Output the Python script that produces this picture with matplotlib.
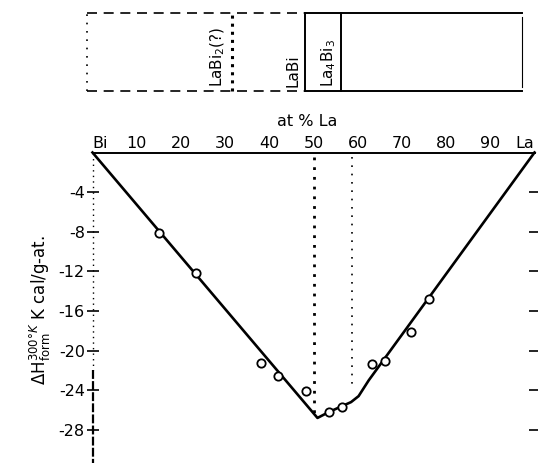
import matplotlib
matplotlib.use("Agg")
import matplotlib.pyplot as plt

# ---- data ----
curve_x = [0, 50.9, 53.5, 56.5, 58.5, 60.2, 62.5, 100]
curve_y = [0, -26.8, -26.2, -25.6, -25.2, -24.6, -23.0, 0]

points_x = [15.0, 23.4, 38.2, 42.0, 48.2, 53.6, 56.4, 63.2, 66.1, 72.0, 76.1]
points_y = [-8.1, -12.2, -21.3, -22.6, -24.1, -26.2, -25.7, -21.4, -21.1, -18.1, -14.8]

x_ticks = [0, 10, 20, 30, 40, 50, 60, 70, 80, 90, 100]
x_labels = ["Bi", "10", "20", "30", "40", "50", "60", "70", "80", "90", "La"]
y_ticks = [-4, -8, -12, -16, -20, -24, -28]
y_labels = ["-4", "-8", "-12", "-16", "-20", "-24", "-28"]

phase_x = [33.3, 50.0, 58.5]
phase_labels = ["LaBi$_2$(?)", "LaBi", "La$_4$Bi$_3$"]
phase_label_x = [30.0, 47.3, 55.6]
phase_styles = [":", "-", "-"]

# ---- figure ----
fig = plt.figure(figsize=(5.38, 4.67), dpi=100)
plt.rcParams['font.family'] = ['DejaVu Sans']

# Top phase panel
axp = fig.add_axes([87/538, 1 - 91/467, 435/538, 78/467])
axp.set_xlim(0, 100)
axp.set_ylim(0, 1)
axp.set_xticks([])
axp.set_yticks([])
for s in axp.spines.values():
    s.set_visible(False)
# borders
axp.plot([0, 50], [1, 1], color="black", lw=1.2, ls=(0, (6, 4)), clip_on=False)
axp.plot([50, 100], [1, 1], color="black", lw=1.4, clip_on=False)
axp.plot([0, 50], [0, 0], color="black", lw=1.2, ls=(0, (6, 4)), clip_on=False)
axp.plot([50, 100], [0, 0], color="black", lw=1.4, clip_on=False)
axp.plot([0, 0], [0, 1], color="black", lw=1.2, ls=(0, (1, 4)), clip_on=False)
axp.plot([100, 100], [0.05, 0.95], color="black", lw=0.8, clip_on=False)
for px, st, lab, lx in zip(phase_x, phase_styles, phase_labels, phase_label_x):
    lw = 2.2 if st == ":" else 1.4
    axp.plot([px, px], [0, 1], color="black", lw=lw, ls=st, clip_on=False)
    axp.text(lx, 0.05, lab, rotation=90, ha="center", va="bottom", fontsize=11)

# Main axes
x0, x1 = 92.5, 534.5
y0, y1 = 152.5, 462.5
ax = fig.add_axes([x0/538, 1 - y1/467, (x1 - x0)/538, (y1 - y0)/467])
ax.set_xlim(0, 100)
ax.set_ylim(-31.3, 0)

for s in ["left", "right", "bottom"]:
    ax.spines[s].set_visible(False)
ax.spines["top"].set_linewidth(1.4)

ax.xaxis.tick_top()
ax.set_xticks(x_ticks)
ax.set_xticklabels(x_labels, fontsize=11.5)
ax.tick_params(axis="x", length=0, pad=1)
for lbl in ax.get_xticklabels():
    if lbl.get_text() == "Bi":
        lbl.set_ha("left")
    elif lbl.get_text() == "La":
        lbl.set_ha("right")

ax.set_yticks(y_ticks)
ax.set_yticklabels(y_labels, fontsize=11.5)
ax.tick_params(axis="y", which="both", direction="inout", length=9, width=1.2,
               pad=1, right=True, labelright=False)

# left axis line: dotted top, solid lower part
ax.plot([0, 0], [0, -22], color="black", lw=1.0, ls=(0, (1, 3)), clip_on=False)
ax.plot([0, 0], [-22, -31.3], color="black", lw=1.6, ls=(0, (4, 1)), clip_on=False)

# phase boundaries (dotted)
ax.plot([50, 50], [-0.5, -26.3], color="black", lw=2.0, ls=(0, (1, 2.5)))
ax.plot([58.8, 58.8], [-0.5, -24.0], color="black", lw=1.2, ls=(0, (1, 4)))

# curve and data
ax.plot(curve_x, curve_y, color="black", lw=1.9, clip_on=False)
ax.plot(points_x, points_y, ls="none", marker="o", ms=6, mfc="white",
        mec="black", mew=1.3)

ax.text(48.5, 1.075, "at % La", transform=ax.get_xaxis_transform(),
        ha="center", va="bottom", fontsize=11.5)

fig.text(40/538, 1 - 310/467,
         r"$\Delta$H$^{300°K}_{\rm form}$ K cal/g-at.",
         rotation=90, ha="center", va="center", fontsize=12)

fig.savefig("out.png", dpi=100)
